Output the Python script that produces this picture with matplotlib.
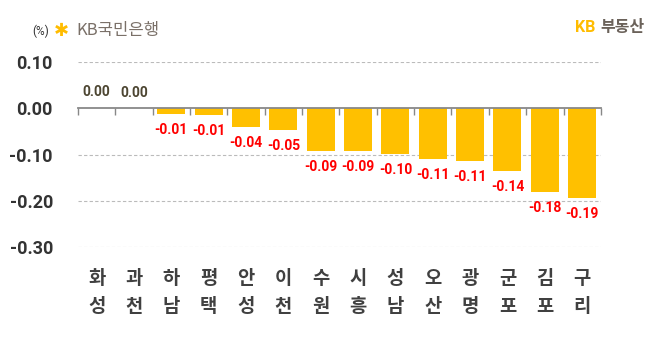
import matplotlib.pyplot as plt
import numpy as np

plt.rcParams['font.family'] = ['Roboto', 'Noto Sans CJK KR', 'DejaVu Sans']

# data
regions = ["화\n성", "과\n천", "하\n남", "평\n택", "안\n성", "이\n천", "수\n원",
           "시\n흥", "성\n남", "오\n산", "광\n명", "군\n포", "김\n포", "구\n리"]
values = [0.002, 0.0, -0.012, -0.015, -0.040, -0.046, -0.092,
          -0.092, -0.098, -0.109, -0.113, -0.135, -0.180, -0.193]
labels = ["0.00", "0.00", "-0.01", "-0.01", "-0.04", "-0.05", "-0.09",
          "-0.09", "-0.10", "-0.11", "-0.11", "-0.14", "-0.18", "-0.19"]
yticks = [0.10, 0.00, -0.10, -0.20, -0.30]

fig = plt.figure(figsize=(6.61, 3.42), dpi=100)
ax = fig.add_axes([0.118, 0.277, 0.791, 0.541])

x = np.arange(len(values))
ax.bar(x, values, width=0.75, color="#ffc000", zorder=3)

ax.set_xlim(-0.5, len(values) - 0.5)
ax.set_ylim(-0.30, 0.10)

# grid lines
for y in yticks:
    if y != 0:
        ax.axhline(y, color="#bbbbbb", lw=0.8, ls=(0, (3, 2)), zorder=1)

ax.set_yticks(yticks)
ax.set_yticklabels([f"{v:.2f}" for v in yticks], fontsize=13,
                   fontweight="bold", color="#333333")
ax.tick_params(axis="y", length=0, pad=18)

# zero axis with boundary ticks
for s in ["top", "right", "left"]:
    ax.spines[s].set_visible(False)
ax.spines["bottom"].set_position(("data", 0))
ax.spines["bottom"].set_color("#888888")
ax.spines["bottom"].set_linewidth(1.3)
ax.spines["bottom"].set_zorder(4)
ax.set_xticks(np.arange(-0.5, len(values), 1.0))
ax.set_xticklabels([])
ax.tick_params(axis="x", length=5, width=1, color="#888888", direction="out")

# value labels
for i, (v, lab) in enumerate(zip(values, labels)):
    if v >= 0:
        ax.text(i, v + 0.019, lab, ha="center", va="bottom", fontsize=10,
                fontweight="bold", color="#4d4632")
    else:
        ax.text(i, v - 0.019, lab, ha="center", va="top", fontsize=10,
                fontweight="bold", color="#ff0000")

# category labels (two lines)
for i, r in enumerate(regions):
    top, bot = r.split("\n")
    ax.text(i, -0.367, top, ha="center", va="center", fontsize=13.5,
            fontweight="bold", color="#404040", family="Noto Sans CJK KR")
    ax.text(i, -0.429, bot, ha="center", va="center", fontsize=13.5,
            fontweight="bold", color="#404040", family="Noto Sans CJK KR")

# header
fig.text(32 / 661, 1 - 31 / 342, "(%)", fontsize=8.5, color="#333333",
         va="center", ha="left")
fig.text(54 / 661, 1 - 31 / 342, "✱", fontsize=13, color="#ffbc00",
         va="center", ha="left", family="DejaVu Sans")
fig.text(76 / 661, 1 - 31 / 342, "KB국민은행", fontsize=12, color="#7a7068",
         va="center", ha="left", family=["Noto Sans CJK KR"])
fig.text(575 / 661, 1 - 27 / 342, "KB", fontsize=11.5, color="#ffbc00",
         fontweight="bold", va="center", ha="left")
fig.text(600 / 661, 1 - 27 / 342, "부동산", fontsize=11.5, color="#6b625a",
         fontweight="bold", va="center", ha="left", family=["Noto Sans CJK KR"])

fig.savefig("out.png", dpi=100)
